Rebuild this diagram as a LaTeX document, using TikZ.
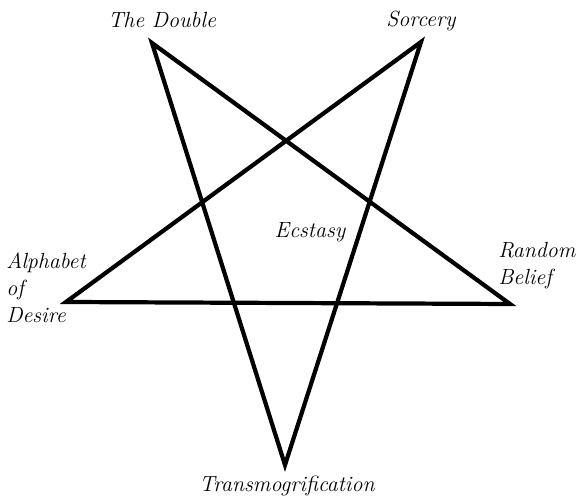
\documentclass[tikz,border=0pt]{standalone}
\usepackage{tikz}
\usetikzlibrary{positioning}

\begin{document}
\begin{tikzpicture}[
        x=0.02cm, y=-0.02cm,
        lbl/.style={font=\fontsize{12.5}{15.5}\selectfont\itshape, inner sep=0pt, align=left},
        star/.style={line width=2.4pt, line join=miter, miter limit=20}
      ]
        \useasboundingbox (0,0) rectangle (583,502);
        % the five points
        \coordinate (double) at (152,43);
        \coordinate (sorcery) at (421,42);
        \coordinate (alphabet) at (66,302);
        \coordinate (belief) at (510,304);
        \coordinate (transmog) at (285,465);

        \draw[star] (double) -- (transmog) -- (sorcery) -- (alphabet) -- (belief) -- cycle;

        \node[lbl] (dbllbl) at (162,20) {The Double};
        \node[lbl] (sorclbl) at (421,21) {Sorcery};
        \node[lbl, anchor=west] (alphlbl) at (6,288) {Alphabet\\of\\Desire};
        \node[lbl, anchor=west] (randlbl) at (498,266) {Random\\Belief};
        \node[lbl] (translbl) at (287,486) {Transmogrification};
        \node[lbl] (ecstlbl) at (310,232) {Ecstasy};
      \end{tikzpicture}
\end{document}
